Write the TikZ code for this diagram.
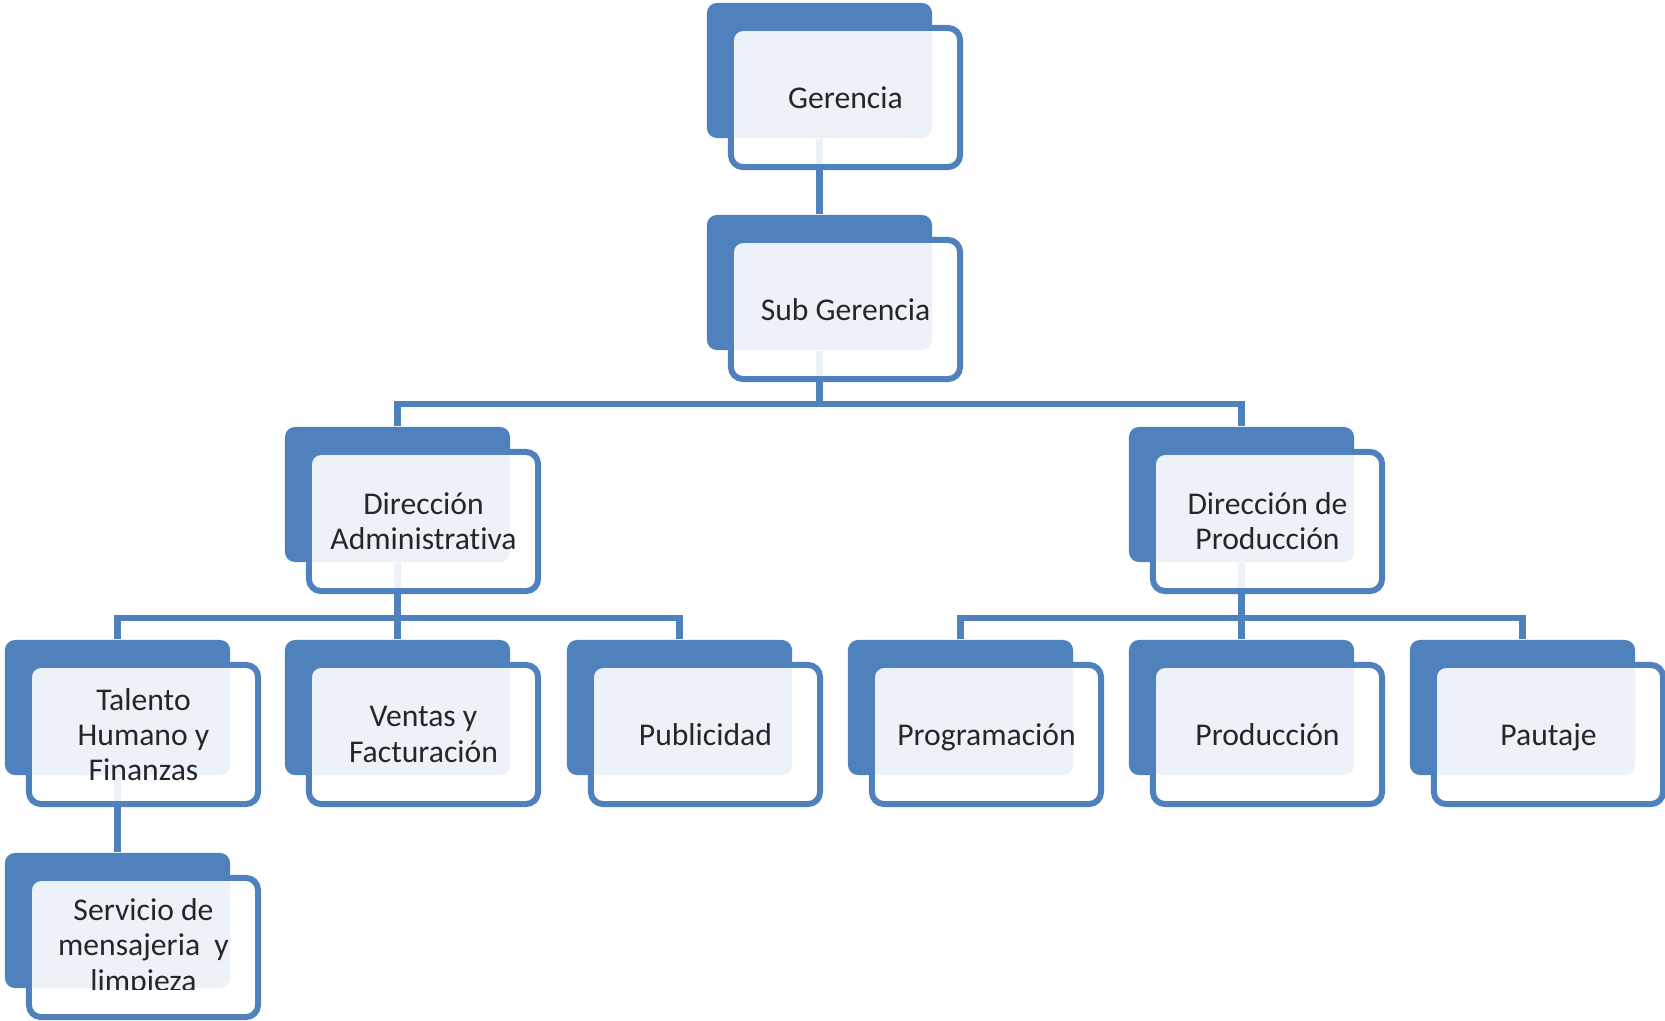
\documentclass[tikz,border=0pt]{standalone}
\usepackage{fontspec}
\setmainfont{Carlito}[Ligatures=NoCommon]
\usepackage{tikz}
\usetikzlibrary{backgrounds}
\definecolor{boxblue}{HTML}{4F81BD}
\definecolor{boxtext}{HTML}{262626}
\tikzset{
backbox/.style = {rectangle, rounded corners=0.1cm, fill=boxblue,
                  minimum width=2.25cm, minimum height=1.35cm, inner sep=0pt}
}
\tikzset{
frontbox/.style = {rectangle, rounded corners=0.12cm, draw=boxblue, line width=0.06cm,
                   fill=white, fill opacity=0.9, text opacity=1,
                   minimum width=2.29cm, minimum height=1.39cm, inner sep=0pt,
                   align=center, text=boxtext, font=\fontsize{9}{10}\selectfont},
oneline/.style = {text height=6pt, text depth=0pt},
boxlabel/.style = {align=center, inner sep=0pt, text=boxtext,
                   font=\fontsize{9}{10}\selectfont}
}
\tikzset{
conn/.style = {draw=boxblue, line width=0.065cm}
}

\begin{document}
\begin{tikzpicture}[x=0.01cm, y=-0.01cm]
  \useasboundingbox (0,0) rectangle (1665,1021);

  % Back boxes
    \node[backbox] (gerB) at (819.5,70.5) {};
    \node[backbox] (subB) at (819.5,282.5) {};
    \node[backbox] (admB) at (397.5,494.5) {};
    \node[backbox] (proB) at (1241.5,494.5) {};
    \node[backbox] (talB) at (117.5,707.5) {};
    \node[backbox] (venB) at (397.5,707.5) {};
    \node[backbox] (pubB) at (679.5,707.5) {};
    \node[backbox] (prgB) at (960.5,707.5) {};
    \node[backbox] (prdB) at (1241.5,707.5) {};
    \node[backbox] (pauB) at (1522.5,707.5) {};
    \node[backbox] (serB) at (117.5,920.5) {};

  % Front boxes
    \node[frontbox, oneline] (ger) at (845.5,97.5) {Gerencia};
    \node[frontbox, oneline] (sub) at (845.5,309.5) {Sub Gerencia};
    \node[frontbox] (adm) at (423.5,521.5) {Dirección\\Administrativa};
    \node[frontbox] (pro) at (1267.5,521.5) {Dirección de\\Producción};
    \node[frontbox] (tal) at (143.5,734.5) {Talento\\Humano y\\Finanzas};
    \node[frontbox] (ven) at (423.5,734.5) {Ventas y\\Facturación};
    \node[frontbox, oneline] (pub) at (705.5,734.5) {Publicidad};
    \node[frontbox, oneline] (prg) at (986.5,734.5) {Programación};
    \node[frontbox, oneline] (prd) at (1267.5,734.5) {Producción};
    \node[frontbox, oneline] (pau) at (1548.5,734.5) {Pautaje};
    \node[frontbox] (serF) at (143.5,947.5) {};
    \begin{scope}
      \clip (0,853) rectangle (300,989);
      \node[boxlabel] (ser) at (serF.center) {Servicio de\\mensajeria~ y\\limpieza};
    \end{scope}

  % Node
    \coordinate (subBus) at (819.5,404);
    \coordinate (admBus) at (397.5,618);
    \coordinate (proBus) at (1241.5,618);

  % Lines
  \begin{scope}[on background layer]
    \draw[conn] (gerB.south) -- (subB.north);
    \draw[conn] (subB.south) -- (subBus);
    \draw[conn] (admB.north) |- (subBus) -| (proB.north);
    \draw[conn] (admB.south) -- (admBus);
    \draw[conn] (talB.north) |- (admBus) -| (pubB.north);
    \draw[conn] (venB.north) -- (admBus);
    \draw[conn] (proB.south) -- (proBus);
    \draw[conn] (prgB.north) |- (proBus) -| (pauB.north);
    \draw[conn] (prdB.north) -- (proBus);
    \draw[conn] (talB.south) -- (serB.north);
  \end{scope}
\end{tikzpicture}
\end{document}
